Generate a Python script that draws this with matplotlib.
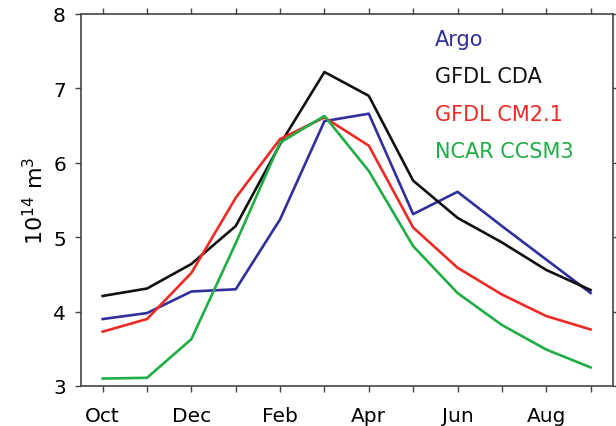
import numpy as np
import matplotlib
matplotlib.use("Agg")
import matplotlib.pyplot as plt

plt.rcParams['font.family'] = ['DejaVu Sans']

# Monthly climatology, Oct through Sep
months = ['Oct', 'Nov', 'Dec', 'Jan', 'Feb', 'Mar', 'Apr', 'May', 'Jun', 'Jul', 'Aug', 'Sep']
argo = [3.90, 3.98, 4.27, 4.30, 5.24, 6.56, 6.66, 5.31, 5.61, 5.15, 4.70, 4.25]
gfdl_cda = [4.21, 4.31, 4.64, 5.15, 6.25, 7.22, 6.90, 5.76, 5.26, 4.93, 4.56, 4.29]
gfdl_cm21 = [3.73, 3.90, 4.52, 5.53, 6.32, 6.61, 6.23, 5.13, 4.59, 4.23, 3.94, 3.76]
ncar_ccsm3 = [3.10, 3.11, 3.63, 4.92, 6.27, 6.63, 5.89, 4.88, 4.25, 3.82, 3.49, 3.25]

names = ['Argo', 'GFDL CDA', 'GFDL CM2.1', 'NCAR CCSM3']
colors = ['#2f2f9e', '#111111', '#ee2a24', '#1fad45']

fig = plt.figure(figsize=(6.16, 4.27), dpi=100)
ax = fig.add_axes([0.1307, 0.0937, 0.864, 0.8712])

x = np.arange(len(months))
for vals, c in zip([argo, gfdl_cda, gfdl_cm21, ncar_ccsm3], colors):
    ax.plot(x, vals, color=c, lw=1.9)

ax.set_xlim(-0.5, 11.5)
ax.set_ylim(3, 8)
ax.set_xticks(x)
ax.set_xticklabels([m if i % 2 == 0 else '' for i, m in enumerate(months)])
ax.set_yticks(range(3, 9))
ax.tick_params(axis='both', direction='out', length=4.5, width=1.0, color='#444444',
               labelsize=14.5, top=True, right=True)
ax.tick_params(axis='x', pad=10)
ax.tick_params(axis='y', pad=6)
for s in ax.spines.values():
    s.set_color('#444444')
    s.set_linewidth(1.2)

ax.set_ylabel('10$^{14}$ m$^{3}$', fontsize=16, labelpad=4)

# legend as coloured text
for i, (n, c) in enumerate(zip(names, colors)):
    ax.text(0.666, 0.933 - i * 0.1008, n, color=c, fontsize=15, transform=ax.transAxes,
            va='center', ha='left')

fig.savefig('out.png', dpi=100)
